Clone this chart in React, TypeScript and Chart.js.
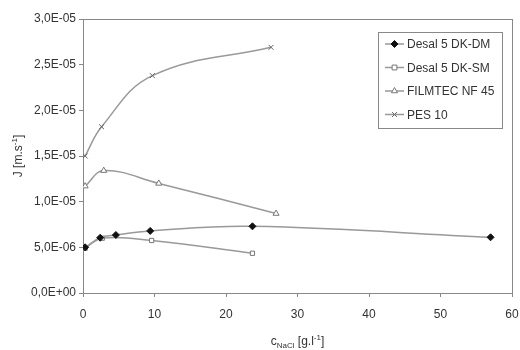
import React, { useEffect, useRef } from "react";
import { Chart, registerables } from "chart.js";

Chart.register(...registerables);

const SERIES_NAMES = ["Desal 5 DK-DM", "Desal 5 DK-SM", "FILMTEC NF 45", "PES 10"];

const DKDM_X = [0.3, 2.4, 4.6, 9.4, 23.7, 57];
const DKDM_Y = [5.0e-6, 6.05e-6, 6.35e-6, 6.8e-6, 7.3e-6, 6.1e-6];

const DKSM_X = [0.3, 2.7, 9.6, 23.7];
const DKSM_Y = [4.9e-6, 6.0e-6, 5.75e-6, 4.35e-6];

const NF45_X = [0.3, 2.9, 10.6, 27];
const NF45_Y = [1.17e-5, 1.34e-5, 1.2e-5, 8.7e-6];

const PES_X = [0.3, 2.6, 9.7, 26.3];
const PES_Y = [1.5e-5, 1.82e-5, 2.38e-5, 2.69e-5];

const X_MIN = 0, X_MAX = 60, X_STEP = 10;
const Y_MIN = 0, Y_MAX = 3e-5, Y_STEP = 5e-6;

const FONT = "Liberation Sans, Arial, sans-serif";
const TEXT_COLOR = "#333";
const AXIS_COLOR = "#888";
const LINE_COLOR = "#999";

function fmtExp(v: number): string {
  if (Math.abs(v) < 1e-12) return "0,0E+00";
  const s = v.toExponential(1);
  const [m, e] = s.split("e");
  const ev = parseInt(e, 10);
  const ea = Math.abs(ev).toString().padStart(2, "0");
  return m.replace(".", ",") + "E" + (ev < 0 ? "-" : "+") + ea;
}

const zip = (xs: number[], ys: number[]) => xs.map((x, i) => ({ x, y: ys[i] }));

type Part = { text: string; size: number; dy: number };

function drawRich(ctx: CanvasRenderingContext2D, parts: Part[], cx: number, baseline: number) {
  let total = 0;
  const widths = parts.map((p) => {
    ctx.font = `${p.size}px ${FONT}`;
    const w = ctx.measureText(p.text).width;
    total += w;
    return w;
  });
  let x = cx - total / 2;
  ctx.textAlign = "left";
  ctx.textBaseline = "alphabetic";
  parts.forEach((p, i) => {
    ctx.font = `${p.size}px ${FONT}`;
    ctx.fillText(p.text, x, baseline + p.dy);
    x += widths[i];
  });
}

function drawMarker(ctx: CanvasRenderingContext2D, style: string, x: number, y: number, r: number, fill: string, stroke: string) {
  ctx.save();
  ctx.lineWidth = 1;
  ctx.strokeStyle = stroke;
  ctx.fillStyle = fill;
  ctx.beginPath();
  if (style === "rectRot") {
    ctx.moveTo(x, y - r); ctx.lineTo(x + r, y); ctx.lineTo(x, y + r); ctx.lineTo(x - r, y); ctx.closePath();
    ctx.fill(); ctx.stroke();
  } else if (style === "rect") {
    ctx.rect(x - r * 0.8, y - r * 0.8, r * 1.6, r * 1.6);
    ctx.fill(); ctx.stroke();
  } else if (style === "triangle") {
    ctx.moveTo(x, y - r); ctx.lineTo(x + r * 0.87, y + r * 0.5); ctx.lineTo(x - r * 0.87, y + r * 0.5); ctx.closePath();
    ctx.fill(); ctx.stroke();
  } else {
    const d = r * 0.7;
    ctx.moveTo(x - d, y - d); ctx.lineTo(x + d, y + d); ctx.moveTo(x + d, y - d); ctx.lineTo(x - d, y + d);
    ctx.stroke();
  }
  ctx.restore();
}

const framePlugin = {
  id: "frame",
  beforeDatasetsDraw(chart: any) {
    const { ctx, chartArea } = chart;
    ctx.save();
    ctx.strokeStyle = AXIS_COLOR;
    ctx.lineWidth = 1;
    ctx.strokeRect(Math.round(chartArea.left) + 0.5, Math.round(chartArea.top) + 0.5,
      Math.round(chartArea.right - chartArea.left), Math.round(chartArea.bottom - chartArea.top));
    ctx.restore();
  },
  afterDraw(chart: any) {
    const { ctx, chartArea } = chart;
    ctx.save();
    ctx.fillStyle = TEXT_COLOR;
    const cx = (chartArea.left + chartArea.right) / 2;
    drawRich(ctx, [
      { text: "c", size: 12, dy: 0 },
      { text: "NaCl", size: 8, dy: 3 },
      { text: " [g.l", size: 12, dy: 0 },
      { text: "-1", size: 8, dy: -5 },
      { text: "]", size: 12, dy: 0 },
    ], cx, 345);
    ctx.save();
    ctx.translate(22, (chartArea.top + chartArea.bottom) / 2);
    ctx.rotate(-Math.PI / 2);
    drawRich(ctx, [
      { text: "J [m.s", size: 12, dy: 0 },
      { text: "-1", size: 8, dy: -5 },
      { text: "]", size: 12, dy: 0 },
    ], 0, 0);
    ctx.restore();

    const bx = 378.5, by = 32.5, bw = 124, bh = 96;
    ctx.fillStyle = "#fff";
    ctx.fillRect(bx, by, bw, bh);
    ctx.strokeStyle = AXIS_COLOR;
    ctx.lineWidth = 1;
    ctx.strokeRect(bx, by, bw, bh);
    const ds = chart.data.datasets;
    ds.forEach((d: any, i: number) => {
      const y = 44 + i * 23.5;
      ctx.strokeStyle = d.borderColor;
      ctx.lineWidth = 1.5;
      ctx.beginPath();
      ctx.moveTo(385, y);
      ctx.lineTo(404, y);
      ctx.stroke();
      drawMarker(ctx, d.pointStyle, 394.5, y, d.pointRadius, d.pointBackgroundColor, d.pointBorderColor);
      ctx.fillStyle = TEXT_COLOR;
      ctx.font = `12px ${FONT}`;
      ctx.textAlign = "left";
      ctx.textBaseline = "middle";
      ctx.fillText(d.label, 407, y + 1);
    });
    ctx.restore();
  },
};

export default function App() {
  const ref = useRef<HTMLCanvasElement>(null);
  useEffect(() => {
    document.body.style.margin = "0";
    const canvas = ref.current;
    if (!canvas) return;
    const common = { borderColor: LINE_COLOR, borderWidth: 1.5, tension: 0.4, fill: false, showLine: true };
    const chart = new Chart(canvas, {
      type: "scatter",
      data: {
        datasets: [
          { ...common, label: SERIES_NAMES[0], data: zip(DKDM_X, DKDM_Y), pointStyle: "rectRot", pointRadius: 3.5,
            pointBackgroundColor: "#111", pointBorderColor: "#111", pointBorderWidth: 1 },
          { ...common, label: SERIES_NAMES[1], data: zip(DKSM_X, DKSM_Y), pointStyle: "rect", pointRadius: 3,
            pointBackgroundColor: "#fff", pointBorderColor: "#777", pointBorderWidth: 1 },
          { ...common, label: SERIES_NAMES[2], data: zip(NF45_X, NF45_Y), pointStyle: "triangle", pointRadius: 3.5,
            pointBackgroundColor: "#fff", pointBorderColor: "#777", pointBorderWidth: 1 },
          { ...common, label: SERIES_NAMES[3], data: zip(PES_X, PES_Y), pointStyle: "crossRot", pointRadius: 3.5,
            pointBackgroundColor: "#fff", pointBorderColor: "#666", pointBorderWidth: 1 },
        ] as any,
      },
      options: {
        responsive: false,
        animation: false,
        layout: { padding: { left: 0, top: 19, right: 8, bottom: 0 } },
        plugins: { legend: { display: false }, tooltip: { enabled: false } },
        scales: {
          x: {
            type: "linear",
            min: X_MIN, max: X_MAX,
            ticks: { stepSize: X_STEP, color: TEXT_COLOR, font: { family: FONT, size: 12 }, padding: 10, maxRotation: 0 },
            grid: { display: true, drawOnChartArea: false, drawTicks: true, tickLength: 4, color: AXIS_COLOR },
            border: { display: false },
            afterFit: (s: any) => { s.height = 57; s.paddingRight = 0; s.paddingLeft = 0; },
          },
          y: {
            type: "linear",
            min: Y_MIN, max: Y_MAX,
            ticks: { stepSize: Y_STEP, color: TEXT_COLOR, font: { family: FONT, size: 12 }, padding: 3,
              callback: (v: any) => fmtExp(Number(v)) },
            grid: { display: true, drawOnChartArea: false, drawTicks: true, tickLength: 4, color: AXIS_COLOR },
            border: { display: false },
            afterFit: (s: any) => { s.width = 83; s.paddingTop = 0; s.paddingBottom = 0; },
          },
        },
      } as any,
      plugins: [framePlugin],
    });
    return () => chart.destroy();
  }, []);
  return (
    <div style={{ width: 520, height: 350 }}>
      <canvas ref={ref} width={520} height={350} />
    </div>
  );
}
